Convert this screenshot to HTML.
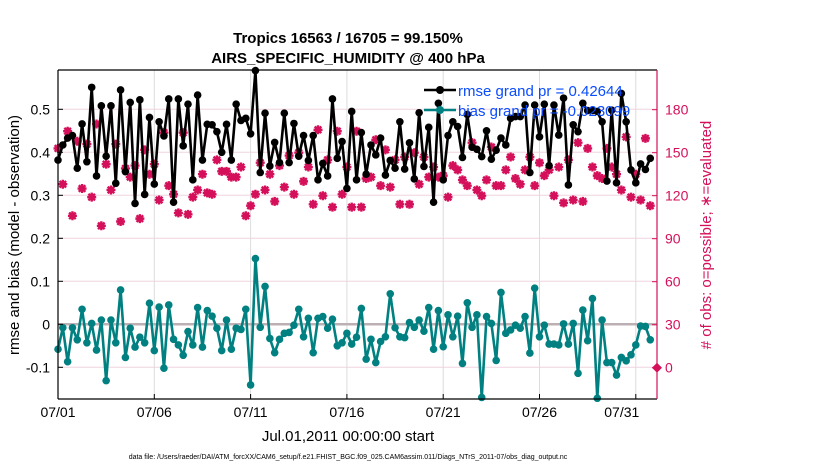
<!DOCTYPE html>
<html><head><meta charset="utf-8"><style>
body{margin:0;background:#fff;}
svg{display:block;font-family:"Liberation Sans",sans-serif;}
</style></head><body>
<svg id="chart" width="830" height="470" viewBox="0 0 830 470">
<g id="grid"></g>
<g id="series"></g>
<g id="axes"></g>
<text x="348" y="43" text-anchor="middle" font-size="15" font-weight="bold">Tropics 16563 / 16705 = 99.150%</text>
<text x="348" y="63" text-anchor="middle" font-size="15" font-weight="bold">AIRS_SPECIFIC_HUMIDITY @ 400 hPa</text>
<text transform="translate(19,235) rotate(-90)" text-anchor="middle" font-size="15">rmse and bias (model - observation)</text>
<text transform="translate(711,235) rotate(-90)" text-anchor="middle" font-size="15" fill="#d5105a"># of obs: o=possible; ∗=evaluated</text>
<text x="348" y="441" text-anchor="middle" font-size="15">Jul.01,2011 00:00:00 start</text>
<text x="348" y="459" text-anchor="middle" font-size="7">data file: /Users/raeder/DAI/ATM_forcXX/CAM6_setup/f.e21.FHIST_BGC.f09_025.CAM6assim.011/Diags_NTrS_2011-07/obs_diag_output.nc</text>
<g id="legend"></g>
</svg>
<script>
const rmse=[0.382,0.417,0.433,0.439,0.363,0.466,0.378,0.551,0.345,0.508,0.391,0.508,0.328,0.545,0.355,0.516,0.281,0.522,0.302,0.481,0.326,0.471,0.438,0.524,0.284,0.524,0.415,0.512,0.336,0.533,
0.382,0.465,0.464,0.448,0.400,0.465,0.382,0.512,0.474,0.479,0.443,0.590,0.353,0.491,0.368,0.423,0.376,0.491,0.376,0.467,0.391,0.439,0.381,0.439,0.336,0.374,0.345,0.524,0.386,0.425,
0.316,0.495,0.336,0.446,0.349,0.417,0.394,0.433,0.347,0.381,0.363,0.471,0.361,0.422,0.338,0.492,0.367,0.458,0.284,0.514,0.336,0.439,0.471,0.460,0.388,0.488,0.412,0.407,0.390,0.450,
0.384,0.405,0.433,0.417,0.479,0.483,0.483,0.510,0.353,0.510,0.436,0.512,0.369,0.510,0.440,0.526,0.324,0.464,0.448,0.514,0.497,0.497,0.495,0.471,0.333,0.498,0.329,0.537,0.471,0.359,
0.329,0.373,0.360,0.386];
const bias=[-0.058,-0.008,-0.087,-0.008,-0.036,0.035,-0.043,0.002,-0.060,0.010,-0.131,0.010,-0.043,0.080,-0.077,-0.009,-0.053,-0.030,-0.043,0.049,-0.061,0.040,-0.102,0.045,-0.035,-0.048,-0.072,-0.017,-0.048,0.039,
-0.053,0.032,0.019,-0.009,-0.061,0.010,-0.058,-0.009,-0.012,0.035,-0.141,0.153,-0.007,0.088,-0.033,-0.066,-0.035,-0.021,-0.019,-0.002,0.035,-0.029,0.014,-0.066,0.014,0.018,-0.009,0.012,-0.050,-0.043,
-0.021,-0.046,-0.030,0.037,-0.081,-0.035,-0.089,-0.040,-0.029,0.071,-0.008,-0.029,-0.031,0.004,-0.007,0.010,-0.016,0.039,-0.058,0.032,-0.052,0.022,-0.029,0.019,-0.091,0.050,-0.007,0.022,-0.170,0.018,
0.002,-0.084,0.074,-0.021,-0.013,-0.002,-0.009,0.018,-0.067,0.084,-0.029,-0.002,-0.046,-0.046,-0.048,0.001,-0.046,0.002,-0.114,0.033,-0.038,0.060,-0.172,0.010,-0.089,-0.089,-0.118,-0.077,-0.085,-0.071,
-0.048,-0.004,-0.005,-0.036];
const nobs=[153,128,165,106,158,125,156,119,170,99,142,124,156,102,139,133,141,104,152,135,142,117,164,127,121,108,164,107,119,124,
135,122,121,145,137,137,133,133,140,106,113,121,143,124,135,116,141,126,148,121,150,130,140,114,166,120,145,112,165,121,
140,112,165,112,132,133,159,127,152,126,145,114,147,114,150,128,147,133,140,133,134,119,141,138,131,127,157,124,120,131,
154,127,127,138,147,132,128,138,147,127,143,134,138,120,140,115,145,117,157,116,153,140,134,132,153,140,135,124,161,119,
135,117,160,113];
const leftTicks=[-0.1,0,0.1,0.2,0.3,0.4,0.5];
const leftTickLabels=["-0.1","0","0.1","0.2","0.3","0.4","0.5"];
const rightTicks=[0,30,60,90,120,150,180];
const dayTicks=[0,5,10,15,20,25,30];
const dayTickLabels=["07/01","07/06","07/11","07/16","07/21","07/26","07/31"];
const legendLabels=["rmse grand pr = 0.42644","bias grand pr = -0.023099"];

const NS="http://www.w3.org/2000/svg";
const L=58,R=657,T=70,B=399;
const xDay=d=>L+d*19.26;
const yL=v=>324.3-v*430;
const yR=c=>367.7-c*(43/30);
function mk(tag,attrs,parent){const e=document.createElementNS(NS,tag);for(const k in attrs)e.setAttribute(k,attrs[k]);parent.appendChild(e);return e;}
const grid=document.getElementById('grid'),ser=document.getElementById('series'),axes=document.getElementById('axes');

leftTicks.forEach((v,i)=>{
  const y=yL(v);
  const g=mk('line',{x1:L,x2:R,y1:y,y2:y,stroke:'#f0d3df','stroke-width':1},grid);
  
  
  mk('line',{x1:L,x2:L+5,y1:y,y2:y,stroke:'#000'},axes);
  const t=mk('text',{x:L-8,y:y+5,'text-anchor':'end','font-size':14},axes);
  t.textContent=leftTickLabels[i];
  
  
});
rightTicks.forEach(c=>{
  const y=yR(c);
  mk('line',{x1:R-5,x2:R,y1:y,y2:y,stroke:'#d5105a'},axes);
  const t=mk('text',{x:R+8,y:y+5,'font-size':14,fill:'#d5105a'},axes);
  t.textContent=String(c);
  
  
});
dayTicks.forEach((d,i)=>{
  const x=xDay(d);
  const g=mk('line',{x1:x,x2:x,y1:T,y2:B,stroke:'#dcdcdc','stroke-width':1},grid);
  
  
  mk('line',{x1:x,x2:x,y1:B,y2:B-5,stroke:'#000'},axes);
  const t=mk('text',{x:(i===dayTicks.length-1?x-14:x),y:B+18,'text-anchor':'middle','font-size':14},axes);
  t.textContent=dayTickLabels[i];
  
  
});
const z=mk('line',{x1:L,x2:R,y1:yL(0),y2:yL(0),stroke:'#bdb0b4','stroke-width':2.5},grid);


mk('line',{x1:L,x2:R,y1:T,y2:T,stroke:'#000','stroke-width':1.2},axes);
mk('line',{x1:L,x2:R,y1:B,y2:B,stroke:'#000','stroke-width':1.2},axes);
mk('line',{x1:L,x2:L,y1:T,y2:B,stroke:'#000','stroke-width':1.2},axes);
mk('line',{x1:R,x2:R,y1:T,y2:B,stroke:'#d5105a','stroke-width':1.2},axes);

const xi=i=>xDay(i*0.25);
nobs.forEach((c,i)=>{
  const x=xi(i),y=yR(c);
  const g=mk('g',{},ser);
  
  
  mk('path',{d:`M${x-4.5},${y}H${x+4.5}M${x},${y-4.5}V${y+4.5}M${x-3.3},${y-3.3}L${x+3.3},${y+3.3}M${x-3.3},${y+3.3}L${x+3.3},${y-3.3}`,stroke:'#d5105a','stroke-width':2.4},g);
  mk('circle',{cx:x,cy:y,r:3.3,fill:'#d5105a'},g);
});
const zc=mk('path',{d:`M${R-5},${yR(0)}L${R},${yR(0)-5}L${R+5},${yR(0)}L${R},${yR(0)+5}Z`,fill:'#d5105a'},ser);



function line(vals,color,name){
  const p=mk('polyline',{points:vals.map((v,i)=>xi(i)+','+yL(v)).join(' '),fill:'none',stroke:color,'stroke-width':2.6,'stroke-linejoin':'round'},ser);
  
  
  vals.forEach((v,i)=>{
    const c=mk('circle',{cx:xi(i),cy:yL(v),r:3.8,fill:color},ser);
    
    
  });
}
line(bias,'#008080','bias');
line(rmse,'#000000','rmse');

const lg=document.getElementById('legend');
['#000','#008080'].forEach((col,i)=>{
  const y=90+i*20;
  mk('line',{x1:424,y1:y,x2:456,y2:y,stroke:col,'stroke-width':2.5},lg);
  mk('circle',{cx:440,cy:y,r:4,fill:col},lg);
  const t=mk('text',{x:458,y:y+6,'font-size':15,fill:'#0a4cff'},lg);
  t.textContent=legendLabels[i];
  
  
});
</script>
</body></html>
